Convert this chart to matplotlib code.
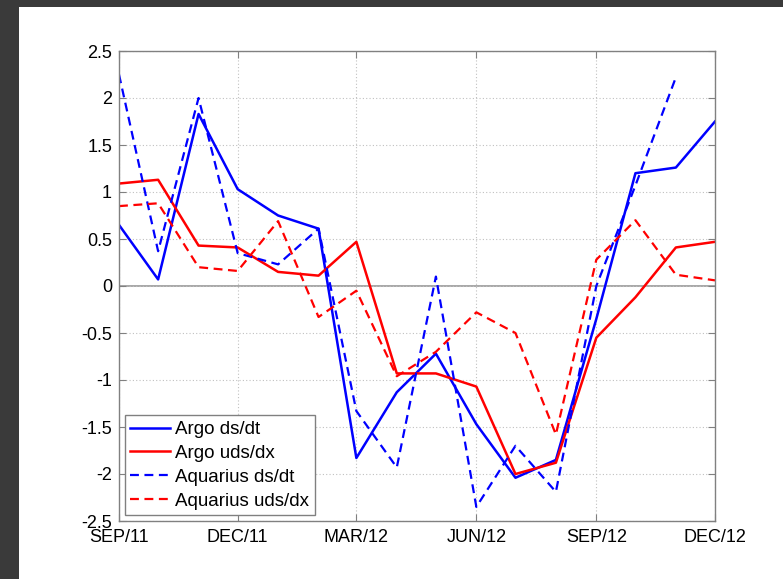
import matplotlib.pyplot as plt
import pandas as pd
import numpy as np

plt.rcParams['font.family'] = ['Liberation Sans', 'DejaVu Sans']

months = pd.date_range('2011-09-01', periods=16, freq='MS')

argo_dsdt = np.array([0.65, 0.07, 1.83, 1.03, 0.75, 0.61, -1.83, -1.13,
                      -0.72, -1.47, -2.04, -1.85, -0.35, 1.20, 1.26, 1.75])
argo_udsdx = np.array([1.09, 1.13, 0.43, 0.41, 0.15, 0.11, 0.47, -0.93,
                       -0.93, -1.07, -2.00, -1.88, -0.55, -0.12, 0.41, 0.47])
aq_dsdt = np.array([2.25, 0.37, 2.00, 0.35, 0.23, 0.61, -1.33, -1.93,
                    0.10, -2.35, -1.70, -2.19, 0.00, 1.07, 2.22, np.nan])
aq_udsdx = np.array([0.85, 0.88, 0.20, 0.16, 0.69, -0.33, -0.05, -0.96,
                     -0.70, -0.28, -0.50, -1.58, 0.28, 0.70, 0.12, 0.06])

labels = ['Argo ds/dt', 'Argo uds/dx', 'Aquarius ds/dt', 'Aquarius uds/dx']
tick_dates = pd.date_range('2011-09-01', periods=6, freq='3MS')
tick_labels = [d.strftime('%b/%y').upper() for d in tick_dates]

fig = plt.figure(figsize=(7.83, 5.79), dpi=100, facecolor='#3a3a3a')
# white slide area behind the plot
fig.patches.append(plt.Rectangle((19/783, 0), 1 - 19/783, 1 - 7/579,
                                 transform=fig.transFigure, facecolor='white',
                                 edgecolor='none', zorder=-10))
ax = fig.add_axes([119/783, 1 - 521/579, (715-119)/783, (521-51)/579])
ax.set_zorder(5)

ax.axhline(0, color='#a0a0a0', lw=1.3, zorder=1)
ax.plot(months, argo_dsdt, color='#0000ff', lw=1.8, label=labels[0])
ax.plot(months, argo_udsdx, color='#ff0000', lw=1.8, label=labels[1])
ax.plot(months, aq_dsdt, color='#0000ff', lw=1.6, ls='--', dashes=(4, 2.5), label=labels[2])
ax.plot(months, aq_udsdx, color='#ff0000', lw=1.6, ls='--', dashes=(4, 2.5), label=labels[3])

ax.set_xlim(months[0], months[-1])
ax.set_ylim(-2.5, 2.5)
ax.set_xticks(tick_dates)
ax.set_xticklabels(tick_labels)
ax.set_yticks(np.arange(-2.5, 2.6, 0.5))
ax.set_yticklabels(['-2.5', '-2', '-1.5', '-1', '-0.5', '0', '0.5', '1', '1.5', '2', '2.5'])
ax.grid(True, color='#c0c0c0', ls=(0, (1, 2)), lw=0.8)
ax.tick_params(direction='in', top=True, right=True, labelsize=13,
               length=5, color='#808080')
ax.tick_params(axis='x', pad=6)
ax.tick_params(axis='y', pad=5)
for s in ax.spines.values():
    s.set_color('#808080')
    s.set_linewidth(1.0)

leg = ax.legend(loc='lower left', fontsize=13.5, fancybox=False, framealpha=1,
                edgecolor='#808080', borderaxespad=0.3, handlelength=2.1,
                handletextpad=0.28, labelspacing=0.36, borderpad=0.3)
leg.get_frame().set_linewidth(1.0)

fig.savefig('out.png', dpi=100, facecolor=fig.get_facecolor())
